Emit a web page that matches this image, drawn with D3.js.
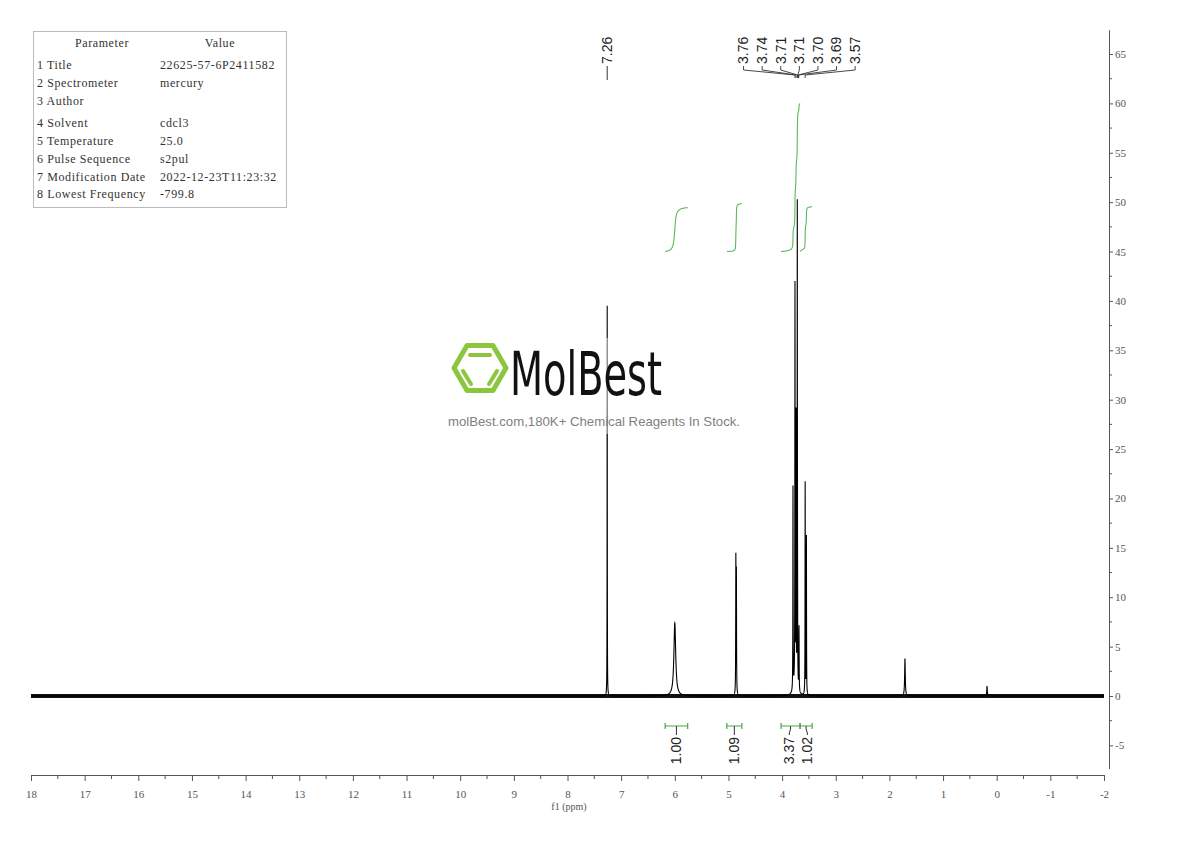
<!DOCTYPE html>
<meta charset="utf-8">
<style>
body { margin: 0; background: #fff; }
svg { display: block; }
.axis path, .axis line { stroke: #555; }
.axis text { font: 11px 'Liberation Serif', serif; fill: #555; }
.ptab text { font: 12px 'Liberation Serif', serif; fill: #333; letter-spacing: 0.6px; }
.plabel { font: 14px 'Liberation Sans', Arial, sans-serif; fill: #222; }
</style>
<body>
<script src="https://cdnjs.cloudflare.com/ajax/libs/d3/7.8.5/d3.min.js"></script>
<script>
// peak list: position (ppm), height, half width (ppm)
var peakPpm    = [7.260, 6.000, 4.862, 4.852, 3.797, 3.760, 3.740, 3.717, 3.712, 3.685, 3.570, 3.547, 3.760, 1.710, 0.180];
var peakHeight = [39.5,  7.4,   13.5,  12.0,  20.5,  40.0,  27.0,  48.0,  5.0,   6.5,   21.5,  16.0,  1.3,   3.8,   1.0];
var peakWidth  = [0.002, 0.020, 0.003, 0.003, 0.0025,0.0025,0.0025,0.0025,0.003, 0.003, 0.0025,0.0025,0.030, 0.007, 0.006];

// baseline noise band (half amplitude)
var noisePpm = [18, -2];
var noiseAmp = [0.2, 0.2];

// labelled peaks at the top
var topLabelsSingle = [7.26];
var topLabelsMulti = [3.76, 3.74, 3.71, 3.71, 3.70, 3.69, 3.57];

// integrals
var integralFrom  = [6.18, 5.03, 4.02, 3.665];
var integralTo    = [5.76, 4.75, 3.665, 3.44];
var integralValue = [1.00, 1.09, 3.37, 1.02];

// parameter table
var paramNames  = ["1 Title", "2 Spectrometer", "3 Author", "4 Solvent", "5 Temperature", "6 Pulse Sequence", "7 Modification Date", "8 Lowest Frequency"];
var paramValues = ["22625-57-6P2411582", "mercury", "", "cdcl3", "25.0", "s2pul", "2022-12-23T11:23:32", "-799.8"];

var W = 1190, H = 841;
var svg = d3.select("body").append("svg").attr("width", W).attr("height", H);

var x = d3.scaleLinear().domain([18, -2]).range([31, 1104]);
var y = d3.scaleLinear().domain([-7.35, 67.45]).range([768.6, 29.8]);

function lorentz(p) {
  var s = 0;
  for (var i = 0; i < peakPpm.length; i++) {
    var d = (p - peakPpm[i]) / peakWidth[i];
    s += peakHeight[i] / (1 + d * d);
  }
  return s;
}

var grid = d3.range(0, 20001).map(function(i) { return 18 - i * 0.001; });
var spectrum = grid.map(function(p) { return {ppm: p, v: lorentz(p)}; });

// ---- axes
var fmt = function(d) { return d < 0 ? "-" + (-d) : "" + d; };

var xAxis = svg.append("g")
    .attr("class", "axis")
    .attr("transform", "translate(0,775)")
    .call(d3.axisBottom(x).tickValues(d3.range(-2, 19, 1)).tickSize(6).tickSizeOuter(0).tickPadding(9).tickFormat(fmt));
xAxis.selectAll(".minor")
    .data(d3.range(-1.5, 18, 1))
  .enter().append("line")
    .attr("stroke", "#555")
    .attr("x1", function(d) { return x(d); })
    .attr("x2", function(d) { return x(d); })
    .attr("y1", 0).attr("y2", 4);
svg.append("text")
    .attr("x", 569).attr("y", 810)
    .attr("text-anchor", "middle")
    .style("font", "10px 'Liberation Serif', serif").style("fill", "#555")
    .text("f1 (ppm)");

var yAxis = svg.append("g")
    .attr("class", "axis")
    .attr("transform", "translate(1109,0)")
    .call(d3.axisRight(y).tickValues(d3.range(-5, 66, 5)).tickSize(4).tickSizeOuter(0).tickPadding(2).tickFormat(fmt));
yAxis.selectAll(".minor")
    .data(d3.range(-2.5, 66, 5))
  .enter().append("line")
    .attr("stroke", "#555")
    .attr("y1", function(d) { return y(d); })
    .attr("y2", function(d) { return y(d); })
    .attr("x1", 0).attr("x2", 3);

// ---- spectrum
var noise = noisePpm.map(function(p, i) { return {ppm: p, a: noiseAmp[i]}; });
svg.append("path")
    .datum(noise)
    .attr("fill", "#111")
    .attr("d", d3.area()
      .x(function(d) { return x(d.ppm); })
      .y0(function(d) { return y(-d.a); })
      .y1(function(d) { return y(d.a); }));

svg.append("path")
    .datum(spectrum)
    .attr("fill", "none")
    .attr("stroke", "#000")
    .attr("stroke-width", 1.1)
    .attr("d", d3.line()
      .x(function(d) { return x(d.ppm); })
      .y(function(d) { return y(d.v); }));

// ---- integral curves (cumulative area, normalised to value)
var intBase = 45, intUnit = 4.45;
var green = "#4aa54a";
integralFrom.forEach(function(f, k) {
  var pts = spectrum.filter(function(d) { return d.ppm <= f && d.ppm >= integralTo[k]; });
  var cum = 0, cs = pts.map(function(d) { cum += d.v; return cum; });
  var curve = pts.map(function(d, i) { return {ppm: d.ppm, v: intBase + integralValue[k] * intUnit * cs[i] / cum}; });
  svg.append("path")
      .datum(curve)
      .attr("fill", "none")
      .attr("stroke", "#5cb85c")
      .attr("stroke-width", 1.1)
      .attr("d", d3.line().curve(d3.curveBasis)
        .x(function(d) { return x(d.ppm); })
        .y(function(d) { return y(d.v); }));
});

// ---- integral brackets and labels
var by = 726;
var centers = integralFrom.map(function(f, k) { return (x(f) + x(integralTo[k])) / 2; });
var lx = centers.slice();
for (var i = 1; i < lx.length; i++) {
  if (lx[i] - lx[i - 1] < 18) {
    var push = (18 - (lx[i] - lx[i - 1])) / 2;
    lx[i - 1] -= push; lx[i] += push;
  }
}
integralFrom.forEach(function(f, k) {
  var g = svg.append("g");
  var x0 = x(f), x1 = x(integralTo[k]);
  g.append("path")
      .attr("fill", "none").attr("stroke", green).attr("stroke-width", 1.2)
      .attr("d", "M" + x0 + "," + (by - 3) + "V" + (by + 3) + "M" + x0 + "," + by + "H" + x1 + "M" + x1 + "," + (by - 3) + "V" + (by + 3));
  g.append("path")
      .attr("fill", "none").attr("stroke", "#333").attr("stroke-width", 1)
      .attr("d", "M" + centers[k] + "," + by + "V" + (by + 3) + "L" + lx[k] + "," + (by + 7) + "V" + (by + 9));
  g.append("text")
      .attr("class", "plabel")
      .attr("transform", "translate(" + lx[k] + "," + (by + 11) + ") rotate(-90)")
      .attr("text-anchor", "end")
      .attr("dy", "0.35em")
      .text(integralValue[k].toFixed(2));
});

// ---- peak labels at top
var labTop = 64;
topLabelsSingle.forEach(function(p) {
  svg.append("text")
      .attr("class", "plabel")
      .attr("transform", "translate(" + x(p) + "," + labTop + ") rotate(-90)")
      .attr("dy", "0.35em")
      .text(p.toFixed(2));
  svg.append("path")
      .attr("stroke", "#333").attr("fill", "none")
      .attr("d", "M" + x(p) + "," + (labTop + 2) + "V80");
});
var mMean = d3.mean(topLabelsMulti, function(p) { return x(p); }) + 1;
var step = 18.6;
topLabelsMulti.forEach(function(p, i) {
  var xl = mMean + (i - (topLabelsMulti.length - 1) / 2) * step;
  svg.append("text")
      .attr("class", "plabel")
      .attr("transform", "translate(" + xl + "," + labTop + ") rotate(-90)")
      .attr("dy", "0.35em")
      .text(p.toFixed(2));
  svg.append("path")
      .attr("stroke", "#333").attr("fill", "none").attr("stroke-width", 0.9)
      .attr("d", "M" + xl + "," + (labTop + 2) + "V" + (labTop + 6) + "L" + x(p) + "," + (labTop + 11) + "V" + (labTop + 14));
});

// ---- parameter table
var tab = svg.append("g").attr("class", "ptab");
tab.append("rect")
    .attr("x", 33.5).attr("y", 31.5).attr("width", 253).attr("height", 176)
    .attr("fill", "none").attr("stroke", "#bbb");
tab.append("text").attr("x", 102).attr("y", 47).attr("text-anchor", "middle").text("Parameter");
tab.append("text").attr("x", 220).attr("y", 47).attr("text-anchor", "middle").text("Value");
var rowY = [69, 87, 105, 127, 145, 163, 181, 198];
paramNames.forEach(function(n, i) {
  tab.append("text").attr("x", 37).attr("y", rowY[i]).text(n);
  tab.append("text").attr("x", 160).attr("y", rowY[i]).text(paramValues[i]);
});

// ---- watermark
var wm = svg.append("g");
wm.append("rect")
    .attr("x", 444).attr("y", 338).attr("width", 300).attr("height", 96)
    .attr("fill", "#fff").attr("opacity", 0.45);
var lg = "#8cc63e";
var cx = 480, cy = 368, r = 26;
var hex = d3.range(6).map(function(i) {
  var a = i * Math.PI / 3;
  return [cx + r * Math.cos(a), cy + r * Math.sin(a)];
});
wm.append("path")
    .attr("d", "M" + hex.join("L") + "Z")
    .attr("fill", "none").attr("stroke", lg).attr("stroke-width", 5).attr("stroke-linejoin", "round");
wm.append("path")
    .attr("d", "M470,355H490M463,371L471,384M497,371L489,384")
    .attr("fill", "none").attr("stroke", lg).attr("stroke-width", 4).attr("stroke-linecap", "round");
wm.append("text")
    .attr("x", 510).attr("y", 395)
    .attr("textLength", 152).attr("lengthAdjust", "spacingAndGlyphs")
    .style("font", "60px 'DejaVu Sans Condensed', 'Liberation Sans Narrow', sans-serif")
    .style("fill", "#111")
    .text("MolBest");
wm.append("text")
    .attr("x", 448).attr("y", 426)
    .attr("textLength", 292).attr("lengthAdjust", "spacingAndGlyphs")
    .style("font", "13px 'Liberation Sans', Arial, sans-serif")
    .style("fill", "#808080")
    .text("molBest.com,180K+ Chemical Reagents In Stock.");
</script>
</body>
